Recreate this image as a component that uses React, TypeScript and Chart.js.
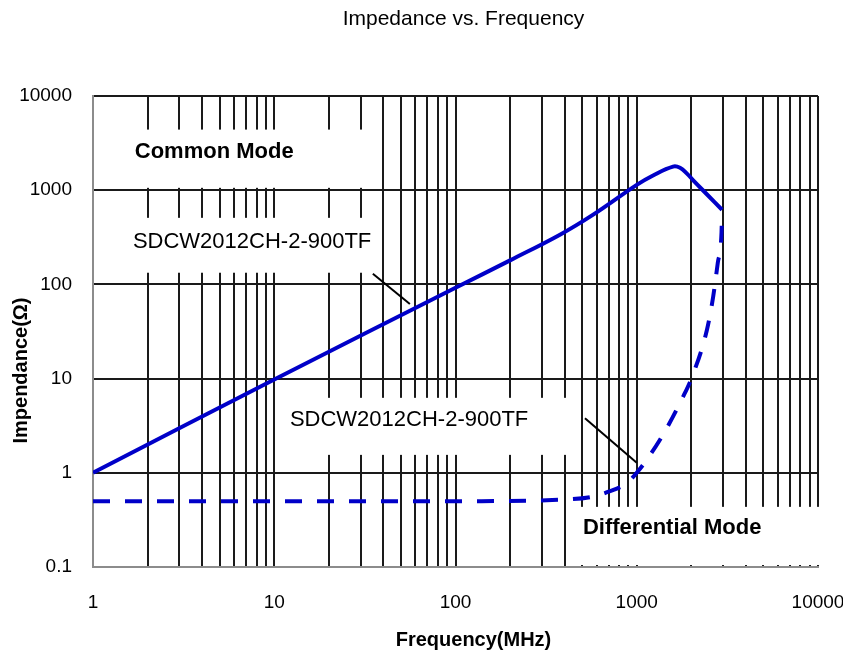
import React, { useEffect, useRef } from 'react';
import { Chart, registerables } from 'chart.js';

Chart.register(...registerables);

const chartTitle = 'Impedance vs. Frequency';
const xAxisTitle = 'Frequency(MHz)';
const yAxisTitle = 'Impendance(Ω)';

const xTickValues = [
  1, 2, 3, 4, 5, 6, 7, 8, 9,
  10, 20, 30, 40, 50, 60, 70, 80, 90,
  100, 200, 300, 400, 500, 600, 700, 800, 900,
  1000, 2000, 3000, 4000, 5000, 6000, 7000, 8000, 9000,
  10000,
];
const xLabelValues = [1, 10, 100, 1000, 10000];
const yTickValues = [0.1, 1, 10, 100, 1000, 10000];

// Common mode (solid)
const commonFreq = [1, 10, 100, 200, 377, 575, 1000, 1230, 1585, 1733, 1893, 2043, 2443, 2955];
const commonZ = [1, 9.8, 92, 180, 337, 550, 1140, 1435, 1780, 1730, 1500, 1280, 900, 620];

// Differential mode (dashed)
const diffFreq = [1, 10, 100, 400, 575, 700, 883, 1000, 1343, 1800, 2017, 2440, 2640, 2800, 2935, 2955];
const diffZ = [0.5, 0.5, 0.5, 0.52, 0.56, 0.63, 0.78, 1.0, 2.24, 6.4, 10.4, 33, 74, 170, 355, 600];

// Annotations (data coordinates)
const noteTexts = ['Common Mode', 'SDCW2012CH-2-900TF', 'SDCW2012CH-2-900TF', 'Differential Mode'];
const noteBold = [true, false, false, true];
const noteBoxFreq = [[1.03, 36], [1.03, 37], [10.5, 456], [417, 10520]];
const noteBoxZ = [[1060, 4400], [133, 509], [1.55, 6.25], [0.105, 0.435]];
const noteTextAt = [[1.7, 2560], [1.66, 283], [12.2, 3.65], [505, 0.26]];
const leaderLines = [
  [[35, 130], [56, 62]],
  [[518, 3.8], [1000, 1.28]],
];

const FONT = "'Liberation Sans', Arial, sans-serif";
const LINE_BLUE = '#0000c8';

const overlayPlugin = {
  id: 'overlay',
  beforeDatasetsDraw(chart: any) {
    const { ctx } = chart;
    const xs = chart.scales.x;
    const ys = chart.scales.y;
    ctx.save();
    for (let i = 0; i < noteTexts.length; i++) {
      const x0 = xs.getPixelForValue(noteBoxFreq[i][0]);
      const x1 = xs.getPixelForValue(noteBoxFreq[i][1]);
      const y0 = ys.getPixelForValue(noteBoxZ[i][1]);
      const y1 = ys.getPixelForValue(noteBoxZ[i][0]);
      ctx.fillStyle = '#ffffff';
      ctx.fillRect(x0, y0, x1 - x0, y1 - y0);
      ctx.fillStyle = '#000000';
      ctx.font = `${noteBold[i] ? 'bold ' : ''}22px ${FONT}`;
      ctx.textAlign = 'left';
      ctx.textBaseline = 'middle';
      ctx.fillText(
        noteTexts[i],
        xs.getPixelForValue(noteTextAt[i][0]),
        ys.getPixelForValue(noteTextAt[i][1])
      );
    }
    ctx.restore();
  },
  afterDatasetsDraw(chart: any) {
    const { ctx } = chart;
    const xs = chart.scales.x;
    const ys = chart.scales.y;
    ctx.save();
    ctx.strokeStyle = '#000000';
    ctx.lineWidth = 2;
    for (const seg of leaderLines) {
      ctx.beginPath();
      ctx.moveTo(xs.getPixelForValue(seg[0][0]), ys.getPixelForValue(seg[0][1]));
      ctx.lineTo(xs.getPixelForValue(seg[1][0]), ys.getPixelForValue(seg[1][1]));
      ctx.stroke();
    }
    ctx.restore();
  },
  afterDraw(chart: any) {
    const { ctx, chartArea } = chart;
    const cx = (chartArea.left + chartArea.right) / 2;
    const cy = (chartArea.top + chartArea.bottom) / 2;
    ctx.save();
    ctx.fillStyle = '#000000';
    ctx.textAlign = 'center';
    ctx.textBaseline = 'alphabetic';
    ctx.font = `21px ${FONT}`;
    ctx.fillText(chartTitle, cx + 8, 25);
    ctx.font = `bold 20px ${FONT}`;
    ctx.fillText(xAxisTitle, cx + 18, 646);
    ctx.translate(27, cy + 39);
    ctx.rotate(-Math.PI / 2);
    ctx.fillText(yAxisTitle, 0, 0);
    ctx.restore();
  },
};

export default function App() {
  const canvasRef = useRef<HTMLCanvasElement | null>(null);

  useEffect(() => {
    const canvas = canvasRef.current;
    if (!canvas) return;
    const chart = new Chart(canvas, {
      type: 'line',
      data: {
        datasets: [
          {
            label: 'Differential Mode',
            data: diffFreq.map((f, i) => ({ x: f, y: diffZ[i] })),
            borderColor: LINE_BLUE,
            borderWidth: 4,
            borderDash: [17, 15],
            pointRadius: 0,
            cubicInterpolationMode: 'monotone',
            fill: false,
          },
          {
            label: 'Common Mode',
            data: commonFreq.map((f, i) => ({ x: f, y: commonZ[i] })),
            borderColor: LINE_BLUE,
            borderWidth: 4,
            pointRadius: 0,
            tension: 0.4,
            fill: false,
          },
        ],
      },
      options: {
        animation: false,
        responsive: false,
        devicePixelRatio: 1,
        layout: { padding: { top: 96, right: 25, bottom: 0, left: 0 } },
        plugins: {
          legend: { display: false },
          title: { display: false },
          tooltip: { enabled: false },
        },
        scales: {
          x: {
            type: 'logarithmic',
            min: 1,
            max: 10000,
            afterBuildTicks: (scale: any) => {
              scale.ticks = xTickValues.map((v) => ({ value: v }));
            },
            afterFit: (scale: any) => {
              scale.height = 85;
              scale.paddingLeft = 0;
              scale.paddingRight = 0;
            },
            grid: {
              drawTicks: false,
              lineWidth: 2,
              color: (ctx: any) => (ctx.tick && ctx.tick.value === 1 ? 'rgba(0,0,0,0)' : '#1a1a1a'),
            },
            border: { display: true, color: '#8c8c8c', width: 2 },
            ticks: {
              autoSkip: false,
              maxRotation: 0,
              minRotation: 0,
              padding: 24,
              color: '#000',
              font: { family: FONT, size: 19 },
              callback: (value: any) => (xLabelValues.includes(Number(value)) ? String(value) : ''),
            },
          },
          y: {
            type: 'logarithmic',
            min: 0.1,
            max: 10000,
            afterBuildTicks: (scale: any) => {
              scale.ticks = yTickValues.map((v) => ({ value: v }));
            },
            afterFit: (scale: any) => {
              scale.width = 93;
              scale.paddingTop = 0;
              scale.paddingBottom = 0;
            },
            grid: {
              drawTicks: false,
              lineWidth: 2,
              color: (ctx: any) => (ctx.tick && ctx.tick.value === 0.1 ? 'rgba(0,0,0,0)' : '#1a1a1a'),
            },
            border: { display: true, color: '#8c8c8c', width: 2 },
            ticks: {
              autoSkip: false,
              padding: 21,
              color: '#000',
              font: { family: FONT, size: 19 },
              callback: (value: any) => String(value),
            },
          },
        },
      },
      plugins: [overlayPlugin],
    } as any);
    return () => chart.destroy();
  }, []);

  return (
    <div style={{ position: 'absolute', left: 0, top: 0, width: 843, height: 652, background: '#fff' }}>
      <canvas ref={canvasRef} width={843} height={652} style={{ display: 'block' }} />
    </div>
  );
}
